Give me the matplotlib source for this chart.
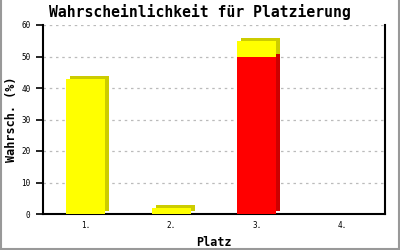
import matplotlib
matplotlib.use("Agg")
import matplotlib.pyplot as plt
from matplotlib.transforms import ScaledTranslation
from matplotlib.lines import Line2D

categories = ["1.", "2.", "3.", "4."]
red_values = [0, 0, 50, 0]
yellow_values = [43, 2, 5, 0]
y_ticks = [0, 10, 20, 30, 40, 50, 60]

fig = plt.figure(figsize=(4, 2.5), dpi=100)
ax = fig.add_axes([43/400, 36/250, 342/400, 189/250])

x = list(range(len(categories)))
width = 0.46
shadow = ax.transData + ScaledTranslation(4/100, 3/100, fig.dpi_scale_trans)

# shadows
ax.bar(x, red_values, width, color="#CC0000", transform=shadow, zorder=2, linewidth=0)
ax.bar(x, yellow_values, width, bottom=red_values, color="#CCCC00", transform=shadow, zorder=2, linewidth=0)
# fronts
ax.bar(x, red_values, width, color="#FF0000", zorder=3, linewidth=0)
ax.bar(x, yellow_values, width, bottom=red_values, color="#FFFF00", zorder=3, linewidth=0)

ax.set_xlim(-0.5, len(categories) - 0.5)
ax.set_ylim(0, 60)
ax.set_yticks(y_ticks)
ax.set_xticks(x)
ax.set_xticklabels(categories)
ax.yaxis.grid(True, linestyle=(0, (2, 3)), color="#BBBBBB", linewidth=0.9, zorder=0)
ax.set_axisbelow(True)

mono = "DejaVu Sans Mono"
for lab in ax.get_yticklabels() + ax.get_xticklabels():
    lab.set_fontfamily(mono)
    lab.set_fontsize(5.5)
ax.tick_params(axis="y", length=5, width=1.2, pad=4, color="black")
ax.tick_params(axis="x", length=0, pad=5)

ax.spines["top"].set_visible(False)
for side in ["left", "bottom", "right"]:
    ax.spines[side].set_linewidth(1.5)
    ax.spines[side].set_color("black")

ax.set_xlabel("Platz", fontfamily=mono, fontweight="bold", fontsize=8.5, labelpad=4)
ax.set_ylabel("Wahrsch. (%)", fontfamily=mono, fontweight="bold", fontsize=8.5)
ax.yaxis.set_label_coords(-25/342, 0.5)
fig.text(0.5, 0.952, "Wahrscheinlichkeit für Platzierung", ha="center", va="center",
         fontfamily=mono, fontweight="bold", fontsize=10.6)

# image border (left, right, bottom)
for xs, ys in [([0.0025, 0.0025], [0, 1]), ([0.9975, 0.9975], [0, 1]), ([0, 1], [0.004, 0.004])]:
    fig.add_artist(Line2D(xs, ys, transform=fig.transFigure, color="#999999", linewidth=1.5))

fig.savefig("out.png", dpi=100)
